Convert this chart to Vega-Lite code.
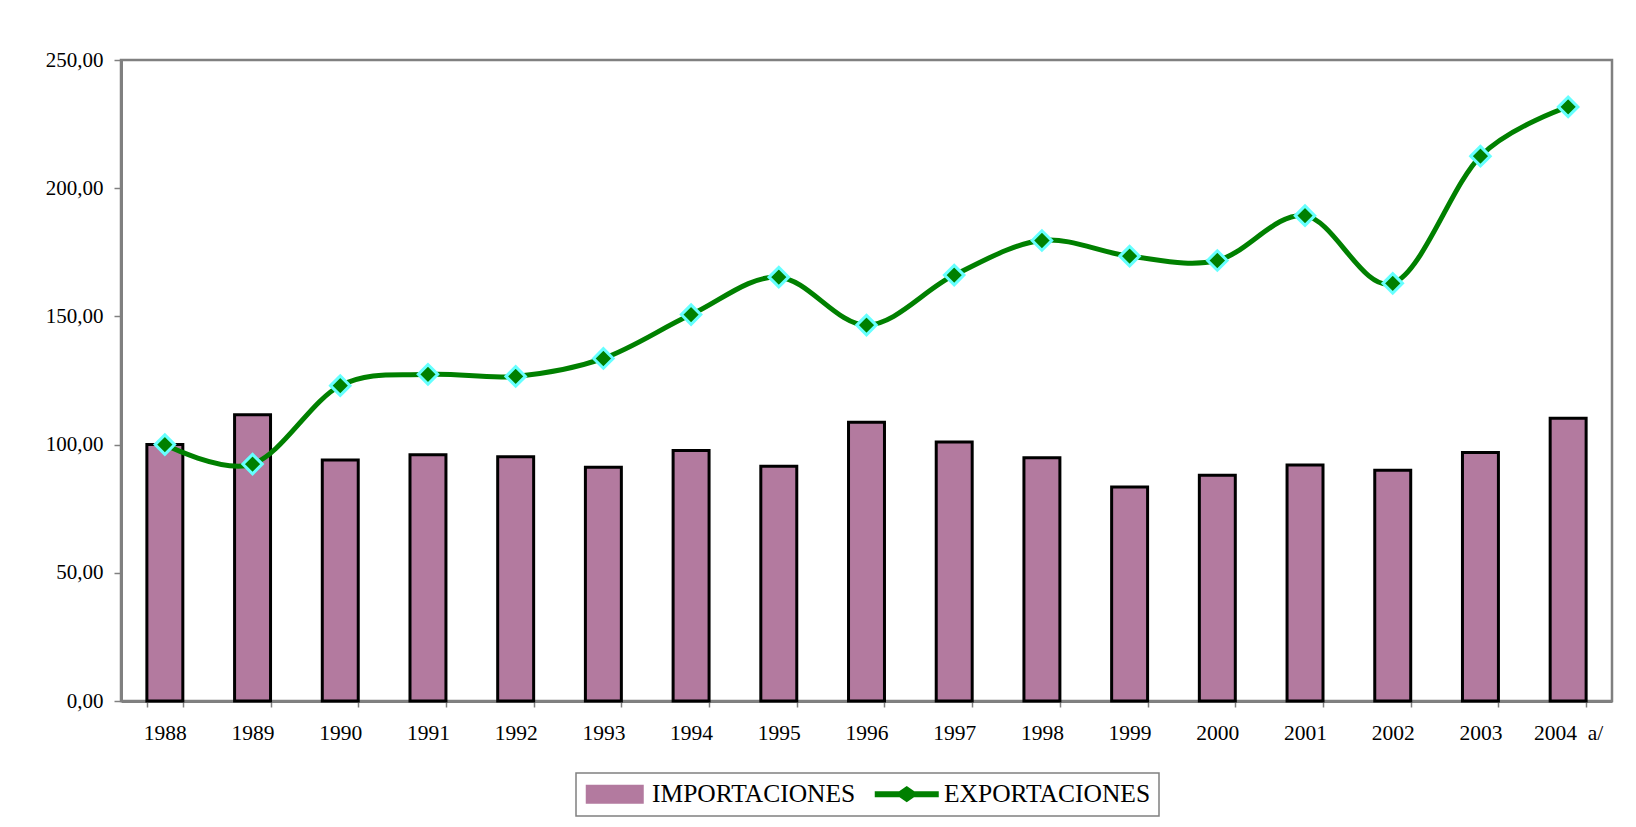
{
  "$schema": "https://vega.github.io/schema/vega-lite/v6.json",
  "width": 1491,
  "height": 641,
  "autosize": {"type": "none"},
  "padding": {"left": 121, "top": 60, "right": 24, "bottom": 126},
  "background": "white",
  "config": {"font": "Liberation Serif", "view": {"stroke": "#808080", "strokeWidth": 2.5}},
  "data": {"values": [
    {"year": "1988", "serie": "IMPORTACIONES", "value": 100.0},
    {"year": "1989", "serie": "IMPORTACIONES", "value": 111.6},
    {"year": "1990", "serie": "IMPORTACIONES", "value": 94.0},
    {"year": "1991", "serie": "IMPORTACIONES", "value": 96.0},
    {"year": "1992", "serie": "IMPORTACIONES", "value": 95.3},
    {"year": "1993", "serie": "IMPORTACIONES", "value": 91.2},
    {"year": "1994", "serie": "IMPORTACIONES", "value": 97.7},
    {"year": "1995", "serie": "IMPORTACIONES", "value": 91.6},
    {"year": "1996", "serie": "IMPORTACIONES", "value": 108.7},
    {"year": "1997", "serie": "IMPORTACIONES", "value": 101.0},
    {"year": "1998", "serie": "IMPORTACIONES", "value": 94.9},
    {"year": "1999", "serie": "IMPORTACIONES", "value": 83.5},
    {"year": "2000", "serie": "IMPORTACIONES", "value": 88.0},
    {"year": "2001", "serie": "IMPORTACIONES", "value": 92.0},
    {"year": "2002", "serie": "IMPORTACIONES", "value": 90.0},
    {"year": "2003", "serie": "IMPORTACIONES", "value": 96.9},
    {"year": "2004", "serie": "IMPORTACIONES", "value": 110.3},
    {"year": "1988", "serie": "EXPORTACIONES", "value": 100.0},
    {"year": "1989", "serie": "EXPORTACIONES", "value": 92.4},
    {"year": "1990", "serie": "EXPORTACIONES", "value": 123.0},
    {"year": "1991", "serie": "EXPORTACIONES", "value": 127.4},
    {"year": "1992", "serie": "EXPORTACIONES", "value": 126.6},
    {"year": "1993", "serie": "EXPORTACIONES", "value": 133.6},
    {"year": "1994", "serie": "EXPORTACIONES", "value": 150.7},
    {"year": "1995", "serie": "EXPORTACIONES", "value": 165.3},
    {"year": "1996", "serie": "EXPORTACIONES", "value": 146.6},
    {"year": "1997", "serie": "EXPORTACIONES", "value": 166.1},
    {"year": "1998", "serie": "EXPORTACIONES", "value": 179.6},
    {"year": "1999", "serie": "EXPORTACIONES", "value": 173.5},
    {"year": "2000", "serie": "EXPORTACIONES", "value": 171.8},
    {"year": "2001", "serie": "EXPORTACIONES", "value": 189.3},
    {"year": "2002", "serie": "EXPORTACIONES", "value": 162.9},
    {"year": "2003", "serie": "EXPORTACIONES", "value": 212.5},
    {"year": "2004", "serie": "EXPORTACIONES", "value": 231.7}
  ]},
  "encoding": {
    "x": {
      "field": "year", "type": "nominal", "sort": null,
      "scale": {"paddingInner": 0.59, "paddingOuter": 0.295},
      "axis": {
        "title": null, "labelAngle": 0, "tickBand": "extent", "tickSize": 6,
        "tickColor": "#808080", "tickWidth": 1.5, "domainColor": "#808080", "domainWidth": 3,
        "labelFontSize": 21.5, "labelColor": "black", "labelPadding": 15,
        "labelExpr": "datum.value == '2004' ? '2004\u00a0\u00a0a/' : datum.value"
      }
    },
    "y": {
      "field": "value", "type": "quantitative",
      "scale": {"domain": [0, 250], "nice": false},
      "axis": {
        "title": null, "values": [0, 50, 100, 150, 200, 250], "grid": false,
        "labelExpr": "replace(format(datum.value, '.2f'), '.', ',')",
        "tickSize": 7, "tickColor": "#808080", "tickWidth": 1.5,
        "domainColor": "#808080", "domainWidth": 3,
        "labelFontSize": 21, "labelColor": "black", "labelPadding": 11
      }
    }
  },
  "layer": [
    {
      "transform": [{"filter": "datum.serie == 'IMPORTACIONES'"}],
      "mark": {"type": "bar", "stroke": "black", "strokeWidth": 3},
      "encoding": {
        "color": {
          "field": "serie", "type": "nominal",
          "scale": {"domain": ["IMPORTACIONES", "EXPORTACIONES"], "range": ["#B37A9F", "#008000"]},
          "legend": {
            "title": null, "orient": "none", "legendX": 455, "legendY": 713,
            "direction": "horizontal", "strokeColor": "#808080", "padding": 8,
            "labelFontSize": 25.5, "labelColor": "black", "labelLimit": 500,
            "symbolSize": 100, "symbolOffset": 18, "labelOffset": 24.5, "columnPadding": 15,
            "symbolType": {"signal": "datum.value === 'IMPORTACIONES' ? 'M-5.6,-1.7H5.6V1.7H-5.6Z' : 'M-6.2,-0.4H-1.4L0,-1.4L1.4,-0.4H6.2V0.4H1.4L0,1.4L-1.4,0.4H-6.2Z'"},
            "symbolStrokeColor": {"signal": "datum.value === 'IMPORTACIONES' ? 'black' : '#008000'"},
            "symbolFillColor": {"signal": "datum.value === 'IMPORTACIONES' ? '#B37A9F' : '#008000'"},
            "symbolStrokeWidth": 2,
            "encode": {
              "legend": {"update": {"strokeWidth": {"value": 1.5}}},
              "symbols": {"update": {
                "shape": {"signal": "datum.value === 'IMPORTACIONES' ? 'M-5.6,-1.7H5.6V1.7H-5.6Z' : 'M-6.2,-0.4H-1.4L0,-1.4L1.4,-0.4H6.2V0.4H1.4L0,1.4L-1.4,0.4H-6.2Z'"},
                "fill": {"signal": "datum.value === 'IMPORTACIONES' ? '#B37A9F' : '#008000'"},
                "stroke": {"signal": "datum.value === 'IMPORTACIONES' ? 'black' : '#008000'"},
                "strokeWidth": {"value": 2},
                "opacity": {"value": 1},
                "fillOpacity": {"value": 1},
                "strokeOpacity": {"value": 1}
              }}
            }
          }
        }
      }
    },
    {
      "transform": [{"filter": "datum.serie == 'EXPORTACIONES'"}],
      "mark": {"type": "line", "interpolate": "cardinal", "strokeWidth": 5},
      "encoding": {
        "color": {"field": "serie", "type": "nominal"}
      }
    },
    {
      "transform": [{"filter": "datum.serie == 'EXPORTACIONES'"}],
      "mark": {"type": "point", "shape": "diamond", "filled": true, "fill": "#008000", "stroke": "#66FFFF", "strokeWidth": 3, "size": 380, "opacity": 1},
      "encoding": {}
    }
  ]
}
